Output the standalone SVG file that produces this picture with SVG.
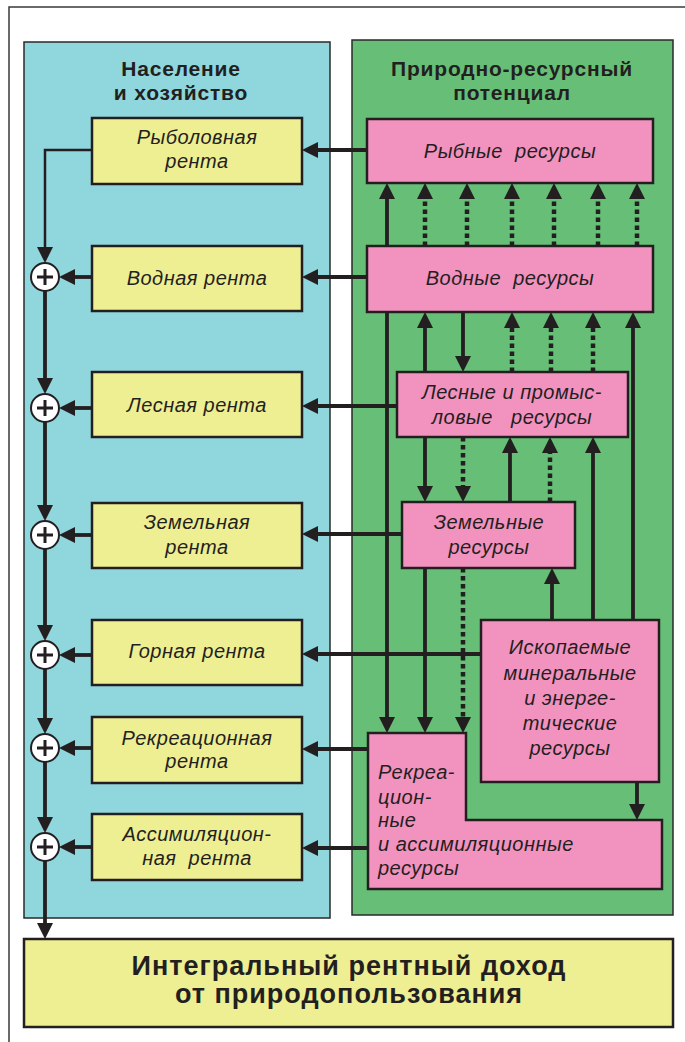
<svg xmlns="http://www.w3.org/2000/svg" width="685" height="1042" viewBox="0 0 685 1042">
<style>
.frame{fill:none;stroke:#3a3a3a;stroke-width:1.5}
.panel{stroke:#2a2a2a;stroke-width:1.5}
.blue{fill:#8fd6dd}
.green{fill:#67bf77}
.yel{fill:#eeee93;stroke:#231f20;stroke-width:2.5}
.pink{fill:#f292bf;stroke:#231f20;stroke-width:2.5}
.t{font-family:"Liberation Sans",Arial,sans-serif;font-style:italic;font-size:20px;letter-spacing:0.5px;fill:#231f20}
.tc{text-anchor:middle}
.h{font-family:"Liberation Sans",Arial,sans-serif;font-weight:bold;font-size:21px;letter-spacing:0.8px;fill:#231f20;text-anchor:middle}
.big{font-family:"Liberation Sans",Arial,sans-serif;font-weight:bold;font-size:27px;letter-spacing:1px;fill:#231f20;text-anchor:middle}
.a{fill:none;stroke:#231f20;stroke-width:3.8;marker-end:url(#ah)}
.thin{fill:none;stroke:#231f20;stroke-width:2.5;marker-end:url(#ah)}
.d{fill:none;stroke:#231f20;stroke-width:4.5;stroke-dasharray:4.5 3.5;marker-end:url(#ah)}
.plus{fill:#fff;stroke:#231f20;stroke-width:2}
.pl{stroke:#231f20;stroke-width:3}
</style>
<defs>
<marker id="ah" markerUnits="userSpaceOnUse" markerWidth="16" markerHeight="16" viewBox="0 0 16 16" refX="10" refY="8" orient="auto">
<path d="M0,0 L16,8 L0,16 Z" fill="#231f20"/>
</marker>
</defs>
<path class="frame" d="M9,1042 V7 H685"/>
<rect class="panel blue" x="24" y="42" width="306" height="876"/>
<rect class="panel green" x="352" y="40" width="321" height="875"/>
<g id="title-left">
<text class="h" x="181" y="76">Население</text>
<text class="h" x="181" y="100">и хозяйство</text>
</g>
<g id="title-right">
<text class="h" x="512" y="76">Природно-ресурсный</text>
<text class="h" x="512" y="100">потенциал</text>
</g>

<g id="connectors">
<!-- left summation chain -->
<path class="thin" d="M92,150 H45 V257"/>
<path class="a" d="M45,291 V388"/>
<path class="a" d="M45,422 V515"/>
<path class="a" d="M45,549 V635"/>
<path class="a" d="M45,669 V728"/>
<path class="a" d="M45,762 V827"/>
<path class="a" d="M45,861 V933"/>
<!-- rent boxes to summation circles -->
<path class="a" d="M92,277 H65"/>
<path class="a" d="M92,408 H65"/>
<path class="a" d="M92,535 H65"/>
<path class="a" d="M92,655 H65"/>
<path class="a" d="M92,748 H65"/>
<path class="a" d="M92,847 H65"/>
<!-- resources to rents -->
<path class="a" d="M367,150 H308"/>
<path class="a" d="M367,277 H308"/>
<path class="a" d="M397,406 H308"/>
<path class="a" d="M402,534 H308"/>
<path class="a" d="M481,654 H308"/>
<path class="a" d="M368,749 H308"/>
<path class="a" d="M368,848 H308"/>
<!-- water -> fish -->
<path class="a" d="M387,246 V189"/>
<path class="d" d="M425,246 V189"/>
<path class="d" d="M467,246 V189"/>
<path class="d" d="M512,246 V189"/>
<path class="d" d="M554,246 V189"/>
<path class="d" d="M598,246 V189"/>
<path class="d" d="M637,246 V189"/>
<!-- water <-> forest -->
<path class="a" d="M387,312 V727"/>
<path class="a" d="M425,372 V318"/>
<path class="a" d="M463,312 V366"/>
<path class="d" d="M512,372 V318"/>
<path class="d" d="M551,372 V318"/>
<path class="d" d="M593,372 V318"/>
<path class="a" d="M633,620 V318"/>
<!-- forest <-> land -->
<path class="a" d="M425,437 V496"/>
<path class="d" d="M463,437 V496"/>
<path class="a" d="M510,502 V443"/>
<path class="d" d="M550,502 V443"/>
<path class="a" d="M593,620 V443"/>
<!-- land / minerals -> recreation -->
<path class="a" d="M425,568 V727"/>
<path class="d" d="M463,568 V727"/>
<path class="a" d="M552,620 V574"/>
<path class="a" d="M637,782 V814"/>
</g>

<g id="n-fish-rent">
<rect class="yel" x="92" y="118" width="210" height="66"/>
<text class="t tc" x="197" y="144">Рыболовная</text>
<text class="t tc" x="197" y="168">рента</text>
</g>
<g id="n-water-rent">
<rect class="yel" x="92" y="246" width="210" height="65"/>
<text class="t tc" x="197" y="285">Водная рента</text>
</g>
<g id="n-forest-rent">
<rect class="yel" x="92" y="372" width="210" height="65"/>
<text class="t tc" x="197" y="412">Лесная рента</text>
</g>
<g id="n-land-rent">
<rect class="yel" x="92" y="503" width="210" height="65"/>
<text class="t tc" x="197" y="529">Земельная</text>
<text class="t tc" x="197" y="554">рента</text>
</g>
<g id="n-mining-rent">
<rect class="yel" x="92" y="620" width="210" height="65"/>
<text class="t tc" x="197" y="658">Горная рента</text>
</g>
<g id="n-recr-rent">
<rect class="yel" x="92" y="717" width="210" height="66"/>
<text class="t tc" x="197" y="745">Рекреационная</text>
<text class="t tc" x="197" y="768">рента</text>
</g>
<g id="n-assim-rent">
<rect class="yel" x="92" y="814" width="210" height="66"/>
<text class="t tc" x="197" y="841">Ассимиляцион-</text>
<text class="t tc" x="197" y="865" xml:space="preserve">ная  рента</text>
</g>

<g id="n-sum1"><circle class="plus" cx="45" cy="277" r="14"/><path class="pl" d="M37,277 H53 M45,269 V285"/></g>
<g id="n-sum2"><circle class="plus" cx="45" cy="408" r="14"/><path class="pl" d="M37,408 H53 M45,400 V416"/></g>
<g id="n-sum3"><circle class="plus" cx="45" cy="535" r="14"/><path class="pl" d="M37,535 H53 M45,527 V543"/></g>
<g id="n-sum4"><circle class="plus" cx="45" cy="655" r="14"/><path class="pl" d="M37,655 H53 M45,647 V663"/></g>
<g id="n-sum5"><circle class="plus" cx="45" cy="748" r="14"/><path class="pl" d="M37,748 H53 M45,740 V756"/></g>
<g id="n-sum6"><circle class="plus" cx="45" cy="847" r="14"/><path class="pl" d="M37,847 H53 M45,839 V855"/></g>

<g id="n-fish-res">
<rect class="pink" x="367" y="119" width="286" height="64"/>
<text class="t tc" x="510" y="158" xml:space="preserve">Рыбные  ресурсы</text>
</g>
<g id="n-water-res">
<rect class="pink" x="367" y="246" width="286" height="66"/>
<text class="t tc" x="510" y="285" xml:space="preserve">Водные  ресурсы</text>
</g>
<g id="n-forest-res">
<rect class="pink" x="397" y="372" width="231" height="65"/>
<text class="t tc" x="512" y="399">Лесные и промыс-</text>
<text class="t tc" x="512" y="424" xml:space="preserve">ловые   ресурсы</text>
</g>
<g id="n-land-res">
<rect class="pink" x="402" y="502" width="173" height="66"/>
<text class="t tc" x="489" y="529">Земельные</text>
<text class="t tc" x="489" y="554">ресурсы</text>
</g>
<g id="n-mineral-res">
<rect class="pink" x="481" y="620" width="178" height="162"/>
<text class="t tc" x="570" y="654">Ископаемые</text>
<text class="t tc" x="570" y="680">минеральные</text>
<text class="t tc" x="570" y="705">и энерге-</text>
<text class="t tc" x="570" y="730">тические</text>
<text class="t tc" x="570" y="755">ресурсы</text>
</g>
<g id="n-recr-res">
<path class="pink" d="M368,733 H466 V820 H662 V889 H368 Z"/>
<text class="t" x="378" y="779">Рекреа-</text>
<text class="t" x="378" y="804">цион-</text>
<text class="t" x="378" y="827">ные</text>
<text class="t" x="378" y="851">и ассимиляционные</text>
<text class="t" x="378" y="875">ресурсы</text>
</g>

<g id="n-total">
<rect class="yel" x="24" y="939" width="649" height="88"/>
<text class="big" x="349" y="975">Интегральный рентный доход</text>
<text class="big" x="349" y="1003">от природопользования</text>
</g>
</svg>
